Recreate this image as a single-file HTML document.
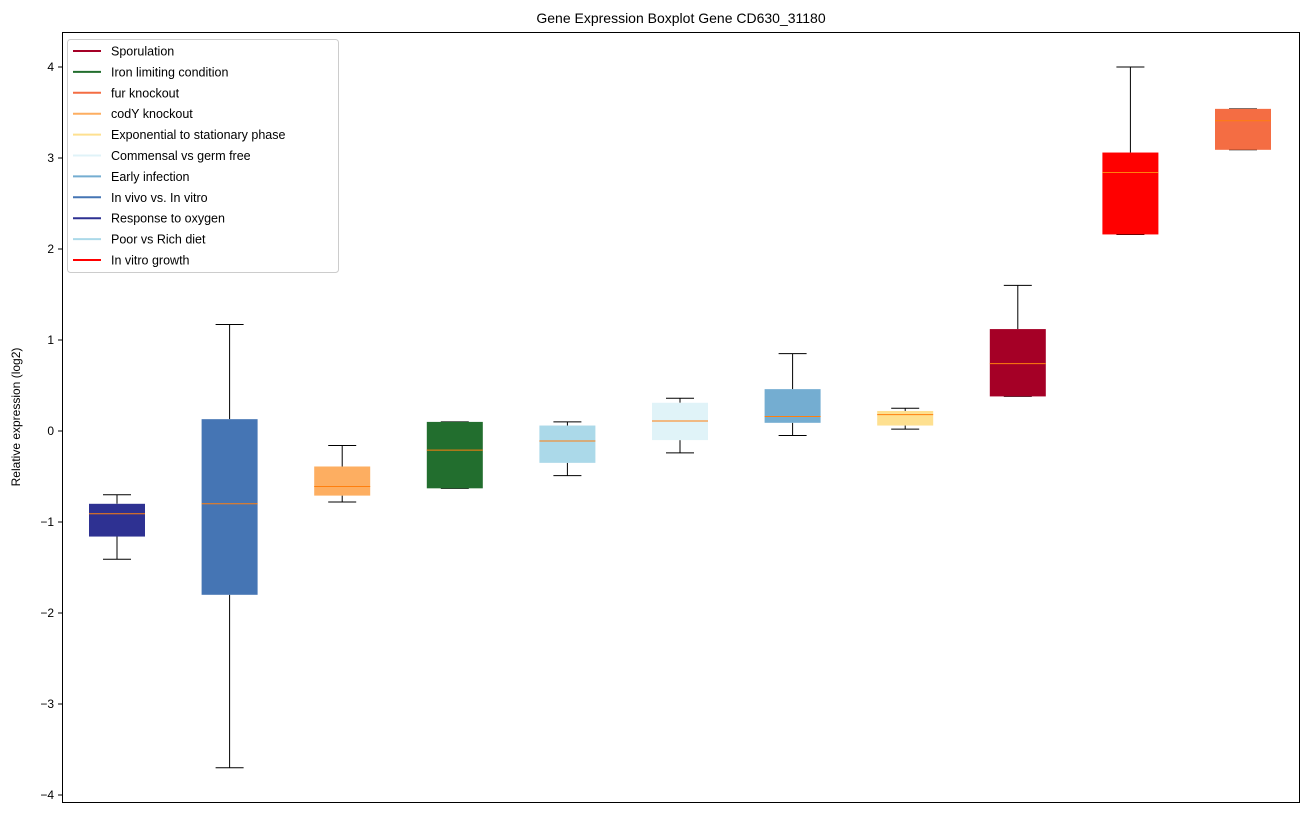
<!DOCTYPE html>
<html><head><meta charset="utf-8"><style>
body{margin:0;background:#fff;font-family:"Liberation Sans","DejaVu Sans",sans-serif;}
</style></head><body>
<svg id="chart" width="1309" height="812" xmlns="http://www.w3.org/2000/svg" font-family="Liberation Sans, DejaVu Sans, sans-serif">
<rect width="1309" height="812" fill="#fff"/>
<text x="681" y="23" font-size="14" text-anchor="middle">Gene Expression Boxplot Gene CD630_31180</text>
<text transform="translate(20,417) rotate(-90)" font-size="12" text-anchor="middle">Relative expression (log2)</text>
<g id="ticks"></g>
<g id="boxes"></g>
<rect x="62.5" y="32.5" width="1237" height="770" fill="none" stroke="#000" stroke-width="1"/>
<g id="legend"></g>
</svg>
<script>
const tickValues=[4,3,2,1,0,-1,-2,-3,-4];
const tickLabels=["4","3","2","1","0","\u22121","\u22122","\u22123","\u22124"];
const categories=["Response to oxygen","In vivo vs. In vitro","codY knockout","Iron limiting condition","Poor vs Rich diet","Commensal vs germ free","Early infection","Exponential to stationary phase","Sporulation","In vitro growth","fur knockout"];
const colors=["#2e3192","#4575b4","#fdae61","#226e2e","#abd9e9","#e0f3f8","#74add1","#fee090","#a50026","#ff0000","#f46d43"];
const whiskerLow=[-1.41,-3.70,-0.78,-0.63,-0.49,-0.24,-0.05,0.02,0.38,2.16,3.09];
const q1=[-1.16,-1.80,-0.71,-0.63,-0.35,-0.10,0.09,0.06,0.38,2.16,3.09];
const medians=[-0.91,-0.80,-0.61,-0.21,-0.11,0.11,0.16,0.18,0.74,2.84,3.41];
const q3=[-0.80,0.13,-0.39,0.10,0.06,0.31,0.46,0.22,1.12,3.06,3.54];
const whiskerHigh=[-0.70,1.17,-0.16,0.10,0.10,0.36,0.85,0.25,1.60,4.00,3.54];
const legendLabels=["Sporulation","Iron limiting condition","fur knockout","codY knockout","Exponential to stationary phase","Commensal vs germ free","Early infection","In vivo vs. In vitro","Response to oxygen","Poor vs Rich diet","In vitro growth"];
const legendColors=["#a50026","#226e2e","#f46d43","#fdae61","#fee090","#e0f3f8","#74add1","#4575b4","#2e3192","#abd9e9","#ff0000"];

const NS="http://www.w3.org/2000/svg";
const y=v=>431-v*91;
const x=i=>117+i*112.6;
function mk(tag,attrs,parent){const e=document.createElementNS(NS,tag);for(const k in attrs)e.setAttribute(k,attrs[k]);parent.appendChild(e);return e;}
const tg=document.getElementById('ticks');
tickValues.forEach((v,i)=>{
  const t=mk('line',{x1:58,x2:62,y1:y(v),y2:y(v),stroke:'#000'},tg);
  
  
  const l=mk('text',{x:54,y:y(v)+4,'font-size':12,'text-anchor':'end'},tg);
  l.textContent=tickLabels[i];
  
  
});
const bg=document.getElementById('boxes');
categories.forEach((c,i)=>{
  const g=mk('g',{},bg);
  
  
  const cx=x(i),hw=28;
  mk('line',{x1:cx,x2:cx,y1:y(whiskerLow[i]),y2:y(q1[i]),stroke:'#000'},g);
  mk('line',{x1:cx,x2:cx,y1:y(q3[i]),y2:y(whiskerHigh[i]),stroke:'#000'},g);
  mk('line',{x1:cx-14,x2:cx+14,y1:y(whiskerLow[i]),y2:y(whiskerLow[i]),stroke:'#000'},g);
  mk('line',{x1:cx-14,x2:cx+14,y1:y(whiskerHigh[i]),y2:y(whiskerHigh[i]),stroke:'#000'},g);
  mk('rect',{x:cx-hw,y:y(q3[i]),width:hw*2,height:y(q1[i])-y(q3[i]),fill:colors[i]},g);
  mk('line',{x1:cx-hw,x2:cx+hw,y1:y(medians[i]),y2:y(medians[i]),stroke:'#ff7f0e','stroke-width':1},g);
});
const lg=document.getElementById('legend');
mk('rect',{x:67.5,y:39.5,width:271,height:233,fill:'#fff',stroke:'#ccc',rx:3},lg);
legendLabels.forEach((l,i)=>{
  const g=mk('g',{},lg);
  
  
  const yy=51+i*20.9;
  mk('line',{x1:73,x2:101,y1:yy,y2:yy,stroke:legendColors[i],'stroke-width':2},g);
  const t=mk('text',{x:111,y:yy+4.5,'font-size':12.5},g);
  t.textContent=l;
});
</script>
</body></html>
